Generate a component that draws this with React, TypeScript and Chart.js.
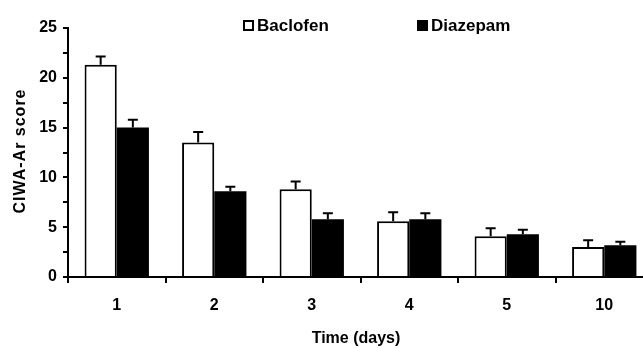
import React, { useEffect, useRef } from "react";
import { Chart, registerables } from "chart.js";

Chart.register(...registerables);

const categories = ["1", "2", "3", "4", "5", "10"];
const baclofen = [21.3, 13.5, 8.8, 5.6, 4.1, 3.0];
const baclofenErr = [0.85, 1.05, 0.8, 0.9, 0.8, 0.7];
const diazepam = [15.0, 8.6, 5.8, 5.8, 4.3, 3.2];
const diazepamErr = [0.8, 0.45, 0.6, 0.6, 0.45, 0.35];
const yTickValues = [0, 5, 10, 15, 20, 25];
const xTitle = "Time (days)";
const yTitle = "CIWA-Ar score";

const FONT = "'Liberation Sans', Arial, sans-serif";

const errorBarPlugin = {
  id: "errorBars",
  afterDatasetsDraw(chart: any) {
    const ctx = chart.ctx;
    const yScale = chart.scales.y;
    chart.data.datasets.forEach((ds: any, di: number) => {
      const meta = chart.getDatasetMeta(di);
      const errs: number[] = ds.errors || [];
      meta.data.forEach((el: any, i: number) => {
        const v = ds.data[i];
        const top = yScale.getPixelForValue(v + errs[i]);
        ctx.save();
        ctx.strokeStyle = "#000";
        ctx.lineWidth = 2;
        ctx.beginPath();
        ctx.moveTo(el.x, el.y);
        ctx.lineTo(el.x, top);
        ctx.moveTo(el.x - 5, top);
        ctx.lineTo(el.x + 5, top);
        ctx.stroke();
        ctx.restore();
      });
    });
  },
};

const textPlugin = {
  id: "customText",
  afterDraw(chart: any) {
    const ctx = chart.ctx;
    ctx.save();
    ctx.fillStyle = "#000";
    // legend
    ctx.font = `bold 17px ${FONT}`;
    ctx.textBaseline = "middle";
    ctx.textAlign = "left";
    const legendPos = [243, 417];
    chart.data.datasets.forEach((ds: any, i: number) => {
      const x = legendPos[i];
      if (ds.backgroundColor === "#ffffff") {
        ctx.fillStyle = "#fff";
        ctx.fillRect(x, 20, 11, 11);
        ctx.strokeStyle = "#000";
        ctx.lineWidth = 2;
        ctx.strokeRect(x + 1, 21, 9, 9);
      } else {
        ctx.fillStyle = "#000";
        ctx.fillRect(x, 20, 11, 11);
      }
      ctx.fillStyle = "#000";
      ctx.fillText(ds.label, x + 14, 26);
    });
    // x title
    ctx.font = `bold 16px ${FONT}`;
    ctx.textAlign = "center";
    ctx.fillText(xTitle, 356, 339);
    // y title
    ctx.translate(21, 151);
    ctx.rotate(-Math.PI / 2);
    (ctx as any).letterSpacing = "1px";
    ctx.fillText(yTitle, 0, 0);
    ctx.restore();
  },
};

export default function App() {
  const ref = useRef<HTMLCanvasElement>(null);
  useEffect(() => {
    if (!ref.current) return;
    const chart = new Chart(ref.current, {
      type: "bar",
      data: {
        labels: categories,
        datasets: [
          {
            label: "Baclofen",
            data: baclofen,
            errors: baclofenErr,
            backgroundColor: "#ffffff",
            borderColor: "#000000",
            borderWidth: 2,
          } as any,
          {
            label: "Diazepam",
            data: diazepam,
            errors: diazepamErr,
            backgroundColor: "#000000",
            borderColor: "#000000",
            borderWidth: 0,
          } as any,
        ],
      },
      options: {
        animation: false,
        responsive: false,
        devicePixelRatio: 1,
        layout: { padding: { left: 0, top: 28, right: 7, bottom: 0 } },
        datasets: { bar: { categoryPercentage: 0.66, barPercentage: 1.0 } },
        plugins: { legend: { display: false }, tooltip: { enabled: false } },
        scales: {
          x: {
            grid: {
              offset: true,
              drawOnChartArea: false,
              drawTicks: true,
              tickLength: 6,
              color: "#000",
              lineWidth: 2,
            },
            border: { display: true, color: "#000", width: 2 },
            ticks: {
              color: "#000",
              font: { family: FONT, size: 16, weight: "bold" },
              padding: 13,
              maxRotation: 0,
            },
            afterFit(scale: any) {
              scale.height = 71;
            },
          },
          y: {
            min: 0,
            max: 25,
            grid: {
              drawOnChartArea: false,
              drawTicks: true,
              tickLength: 5,
              color: "#000",
              lineWidth: 2,
            },
            border: { display: true, color: "#000", width: 2 },
            ticks: {
              stepSize: 2.5,
              autoSkip: false,
              color: "#000",
              font: { family: FONT, size: 16, weight: "bold" },
              padding: 6,
              callback: (v: any) => (yTickValues.includes(Number(v)) ? String(v) : ""),
            },
            afterFit(scale: any) {
              scale.width = 68;
            },
          },
        },
      },
      plugins: [errorBarPlugin, textPlugin],
    } as any);
    return () => chart.destroy();
  }, []);
  return (
    <div
      style={{
        position: "absolute",
        left: 0,
        top: 0,
        width: 643,
        height: 348,
        overflow: "hidden",
        background: "#fff",
      }}
    >
      <canvas ref={ref} width={660} height={348} style={{ display: "block" }} />
    </div>
  );
}
